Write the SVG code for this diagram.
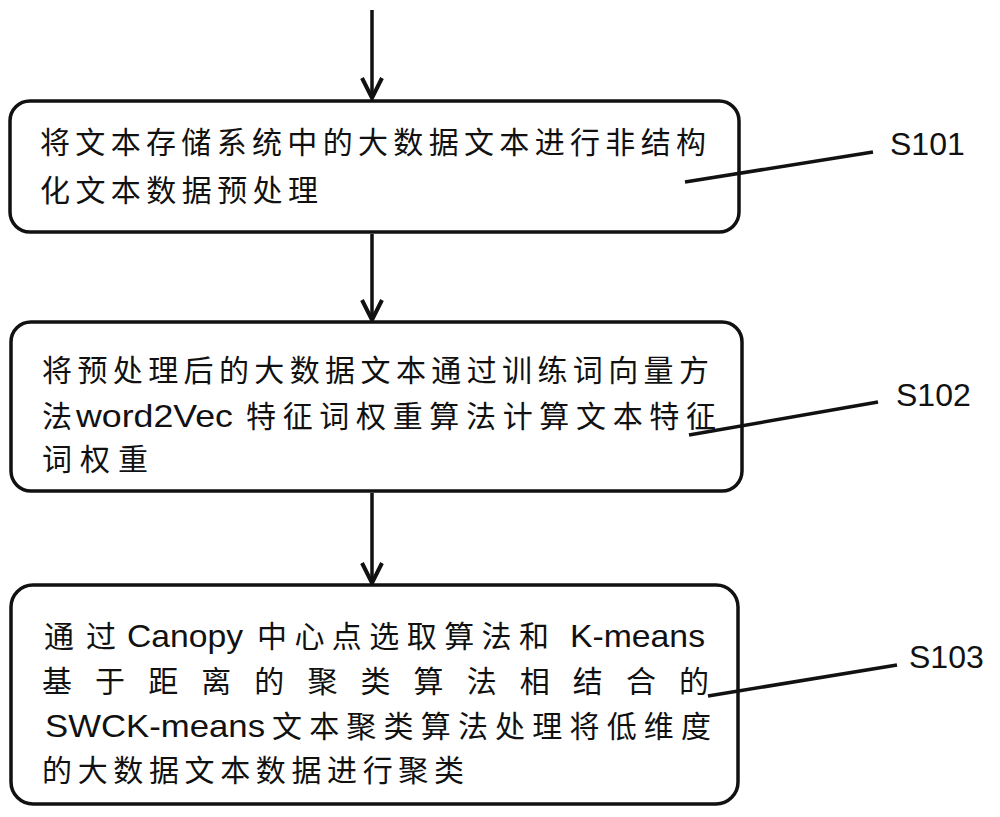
<svg xmlns="http://www.w3.org/2000/svg" width="1000" height="817" viewBox="0 0 1000 817">
<style>
.box{fill:#fff;stroke:#111;stroke-width:3.5}
.t{font-family:"Noto Sans CJK SC","Liberation Sans",sans-serif;font-size:30px;fill:#111}
.l{font-family:"Liberation Sans",Arial,sans-serif;font-size:32px;fill:#111}
.lbl{font-family:"Liberation Sans",Arial,sans-serif;font-size:32px;fill:#111}
.ln{stroke:#111;stroke-width:3.5;fill:none}
.ar{stroke:#111;stroke-width:3.5;fill:none}
</style>
<defs>
<marker id="ah" viewBox="0 0 24 24" refX="22" refY="12" markerWidth="24" markerHeight="24" markerUnits="userSpaceOnUse" orient="auto">
<path d="M2,2 L22,12 L2,22" fill="none" stroke="#111" stroke-width="4"/>
</marker>
</defs>
<g id="s101">
<rect class="box" x="10" y="101" width="729" height="131" rx="20"/>
<text class="t" x="40" y="153" textLength="666" lengthAdjust="spacing">将文本存储系统中的大数据文本进行非结构</text>
<text class="t" x="40" y="201" textLength="278" lengthAdjust="spacing">化文本数据预处理</text>
</g>
<g id="s102">
<rect class="box" x="11" y="322" width="731" height="169" rx="20"/>
<text class="t" x="42" y="381" textLength="667" lengthAdjust="spacing">将预处理后的大数据文本通过训练词向量方</text>
<text class="t" x="42" y="427">法</text>
<text class="l" x="76" y="427" textLength="157" lengthAdjust="spacingAndGlyphs">word2Vec</text>
<text class="t" x="246" y="427" textLength="470" lengthAdjust="spacing">特征词权重算法计算文本特征</text>
<text class="t" x="42" y="470" textLength="106" lengthAdjust="spacing">词权重</text>
</g>
<g id="s103">
<rect class="box" x="11" y="585" width="727" height="219" rx="22"/>
<text class="t" x="44" y="647" textLength="72" lengthAdjust="spacing">通过</text>
<text class="l" x="127" y="647" textLength="116" lengthAdjust="spacingAndGlyphs">Canopy</text>
<text class="t" x="257" y="647" textLength="292" lengthAdjust="spacing">中心点选取算法和</text>
<text class="l" x="570" y="647" textLength="135" lengthAdjust="spacingAndGlyphs">K-means</text>
<text class="t" x="42" y="692" textLength="667" lengthAdjust="spacing">基于距离的聚类算法相结合的</text>
<text class="l" x="45" y="737" textLength="220" lengthAdjust="spacingAndGlyphs">SWCK-means</text>
<text class="t" x="272" y="737" textLength="439" lengthAdjust="spacing">文本聚类算法处理将低维度</text>
<text class="t" x="42" y="781" textLength="422" lengthAdjust="spacing">的大数据文本数据进行聚类</text>
</g>
<g id="connectors">
<line class="ar" x1="372" y1="10" x2="372" y2="98" marker-end="url(#ah)"/>
<line class="ar" x1="372" y1="234" x2="372" y2="320" marker-end="url(#ah)"/>
<line class="ar" x1="372" y1="493" x2="372" y2="583" marker-end="url(#ah)"/>
<line class="ln" x1="685" y1="182" x2="873" y2="152"/>
<line class="ln" x1="689" y1="435" x2="878" y2="402"/>
<line class="ln" x1="708" y1="696" x2="897" y2="665"/>
</g>
<g id="labels">
<text class="lbl" x="890" y="155">S101</text>
<text class="lbl" x="896" y="406">S102</text>
<text class="lbl" x="909" y="668">S103</text>
</g>
</svg>
